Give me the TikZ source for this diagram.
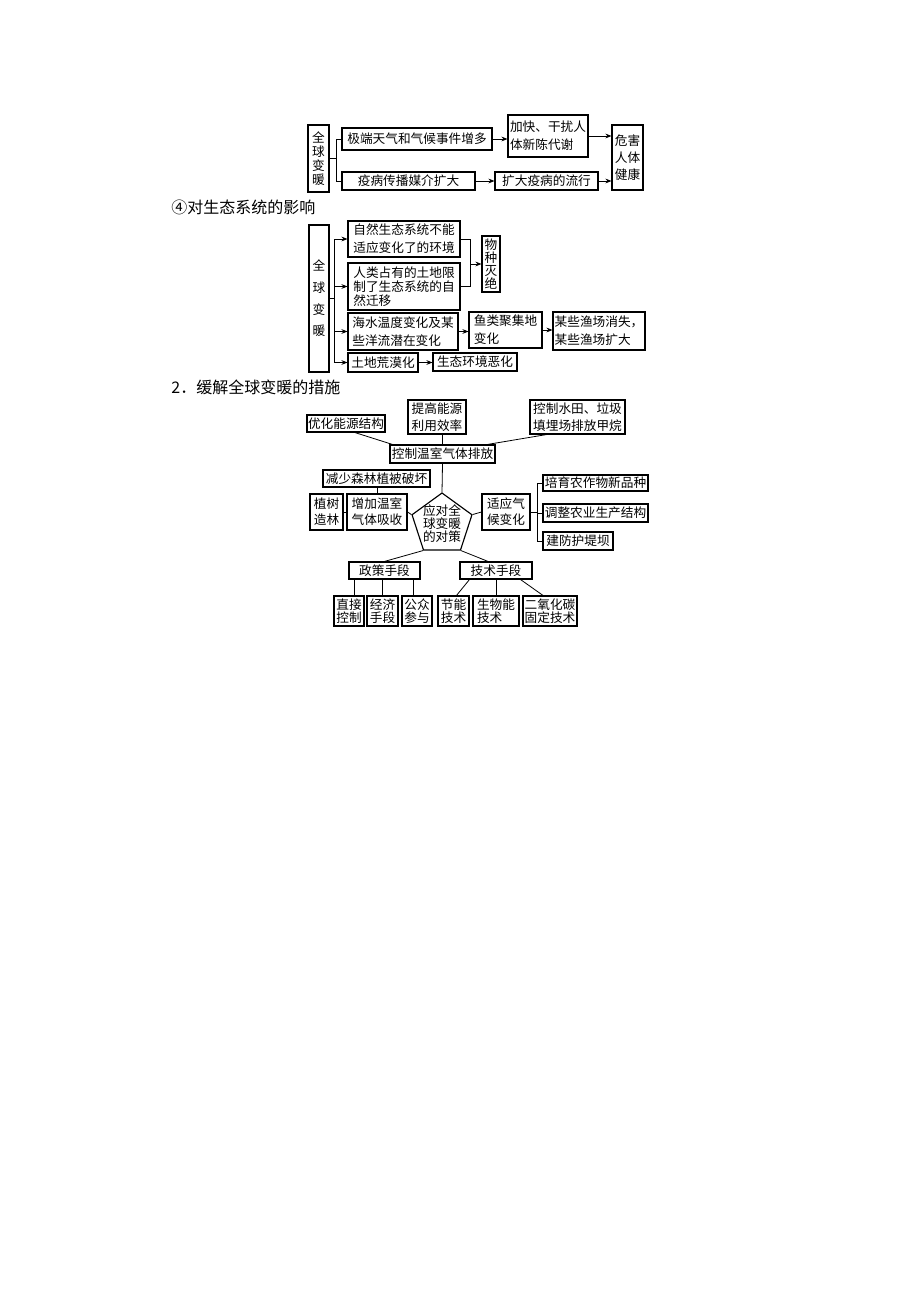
\documentclass[tikz,border=0pt]{standalone}
\usepackage{fontspec}
\setmainfont{Noto Sans CJK SC}
\usetikzlibrary{arrows.meta,shapes.geometric,calc}
\newcommand\bxn[8][]{\node[box,minimum width={(#5-#3)*0.75pt},minimum height={(#6-#4)*0.75pt},font=\fontsize{9.5pt}{#7}\selectfont,#1] (#2) at ({(#3+#5)/2},{(#4+#6)/2}) {#8};}
\begin{document}
\begin{tikzpicture}[x=0.75pt,y=-0.75pt,line width=0.6pt,
  box/.style={draw,line width=0.85pt,inner sep=0pt,align=center},
  arr/.style={-{Stealth[length=4.5pt,width=3.6pt]}},
  head/.style={anchor=west,inner sep=0pt,font=\fontsize{12pt}{14pt}\selectfont}]
\fill[white] (0,0) rectangle (920,1302);
\useasboundingbox (0,0) rectangle (920,1302);
% headings
\node[head] (h1) at (171,207) {④对生态系统的影响};
\node[head] (h2) at (171,387) {2．缓解全球变暖的措施};
% diagram 1
\bxn{r1}{308}{125}{329}{192}{10.5pt}{全\\球\\变\\暖}
\bxn{e1}{342}{128}{492}{150}{12pt}{极端天气和气候事件增多}
\bxn{e2}{342}{172}{475}{190}{12pt}{疫病传播媒介扩大}
\bxn[align=left]{f1}{508}{115}{588}{157}{13.5pt}{加快、干扰人\\体新陈代谢}
\bxn{f2}{495}{172}{598}{190}{12pt}{扩大疫病的流行}
\bxn{g1}{612}{125}{643}{190}{13pt}{危害\\人体\\健康}
\draw (r1.east) -- ++(7,0) coordinate (t1);
\draw (t1) |- (e1.west);
\draw (t1) |- (e2.west);
\draw[arr] (e1.east) -- (e1.east -| f1.west);
\draw[arr] (f1.east) -- (f1.east -| g1.west);
\draw[arr] (e2.east) -- (e2.east -| f2.west);
\draw[arr] (f2.east) -- (f2.east -| g1.west);
% diagram 2
\bxn{r2}{309}{225}{329}{372}{16.3pt}{全\\球\\变\\暖}
\bxn[align=left]{n1}{348}{221}{460}{257}{13.5pt}{自然生态系统不能\\适应变化了的环境}
\bxn[align=left]{n2}{348}{263}{460}{310}{10.3pt}{人类占有的土地限\\制了生态系统的自\\然迁移}
\bxn[align=left]{n3}{348}{313}{458}{350}{13.5pt}{海水温度变化及某\\些洋流潜在变化}
\bxn{n4}{348}{353}{418}{372}{12pt}{土地荒漠化}
\bxn{n5}{482}{236}{500}{292}{9.6pt}{物\\种\\灭\\绝}
\bxn[align=left]{n6}{469}{312}{542}{348}{13.5pt}{鱼类聚集地\\变化}
\bxn[align=left]{n7}{553}{312}{645}{350}{13.5pt}{某些渔场消失，\\某些渔场扩大}
\bxn{n8}{433}{353}{517}{371}{12pt}{生态环境恶化}
\draw (r2.east) -- ++(5,0) coordinate (t2);
\foreach \n in {n1,n2,n3,n4} \draw[arr] (t2) |- (\n.west);
\draw (n1.east) -- ++(10,0) coordinate (b1) -- (b1 |- n2.east) -- (n2.east);
\draw[arr] (b1 |- n5.west) -- (n5.west);
\draw[arr] (n3.east) -- (n3.east -| n6.west);
\draw[arr] (n6.east) -- (n6.east -| n7.west);
\draw[arr] (n4.east) -- (n4.east -| n8.west);
% diagram 3
\bxn{p1}{307}{415}{385}{432}{12pt}{优化能源结构}
\bxn{p2}{408}{400}{466}{434}{12.8pt}{提高能源\\利用效率}
\bxn{p3}{530}{400}{625}{434}{12.8pt}{控制水田、垃圾\\填埋场排放甲烷}
\bxn{c1}{390}{445}{495}{463}{12pt}{控制温室气体排放}
\draw ($(p1.south)+(9,0)$) -- ($(c1.north west)+(3,0)$);
\draw (c1.north |- p2.south) -- (c1.north);
\draw ($(p3.south west)+(17,0)$) -- ($(c1.north east)+(-8,0)$);
\node[draw,regular polygon,regular polygon sides=5,minimum size=47.25pt,inner sep=0pt,line width=0.85pt] (pent) at (442,524.5) {};
\node[font=\fontsize{9.5pt}{9.8pt}\selectfont,align=center,inner sep=0pt] (ptxt) at (442,524) {应对全\\球变暖\\的对策};
\draw (c1.south) -- (pent.corner 1);
\bxn{w1}{323}{470}{430}{487}{12pt}{减少森林植被破坏}
\bxn{w2}{310}{494}{343}{530}{12pt}{植树\\造林}
\bxn[align=left]{w3}{347}{494}{407}{530}{12pt}{增加温室\\气体吸收}
\draw (w1.south -| w3.north) -- (w3.north);
\draw (w2.east) -- (w3.west);
\draw (w3.east) -- (pent.corner 2);
\bxn{s1}{482}{494}{530}{530}{12pt}{适应气\\候变化}
\draw (pent.corner 5) -- (s1.west);
\draw (s1.east) -- ++(7,0) coordinate (t3);
\bxn{u1}{543}{475}{648}{491}{12pt}{培育农作物新品种}
\bxn{u2}{543}{504}{648}{522}{12pt}{调整农业生产结构}
\bxn{u3}{543}{532}{613}{550}{12pt}{建防护堤坝}
\foreach \n in {u1,u2,u3} \draw (t3) |- (\n.west);
\bxn{q1}{349}{562}{420}{579}{12pt}{政策手段}
\bxn{q2}{460}{562}{532}{579}{12pt}{技术手段}
\draw (pent.corner 3) -- (q1.north);
\draw (pent.corner 4) -- ($(q2.north)+(-8,0)$);
\bxn{b1}{334}{596}{364}{626}{10pt}{直接\\控制}
\bxn{b2}{367}{596}{398}{626}{10pt}{经济\\手段}
\bxn{b3}{402}{596}{432}{626}{10pt}{公众\\参与}
\bxn{b4}{438}{596}{469}{626}{10pt}{节能\\技术}
\bxn[align=left]{b5}{473}{596}{519}{626}{10pt}{生物能\\技术}
\bxn{b6}{523}{596}{577}{626}{10pt}{二氧化碳\\固定技术}
\coordinate (k1) at ($(q1.south west)+(6,0)$);
\draw (k1) -- (k1 |- b1.north);
\draw (q1.south -| b2.north) -- (b2.north);
\coordinate (k3) at ($(q1.south east)+(-7,0)$);
\draw (k3) -- (k3 |- b3.north);
\draw ($(q2.south west)+(10,0)$) -- ($(b4.north)+(3,0)$);
\draw (q2.south) -- (q2.south |- b5.north);
\draw ($(q2.south east)+(-12,0)$) -- ($(b6.north)+(-7,0)$);
\end{tikzpicture}
\end{document}
